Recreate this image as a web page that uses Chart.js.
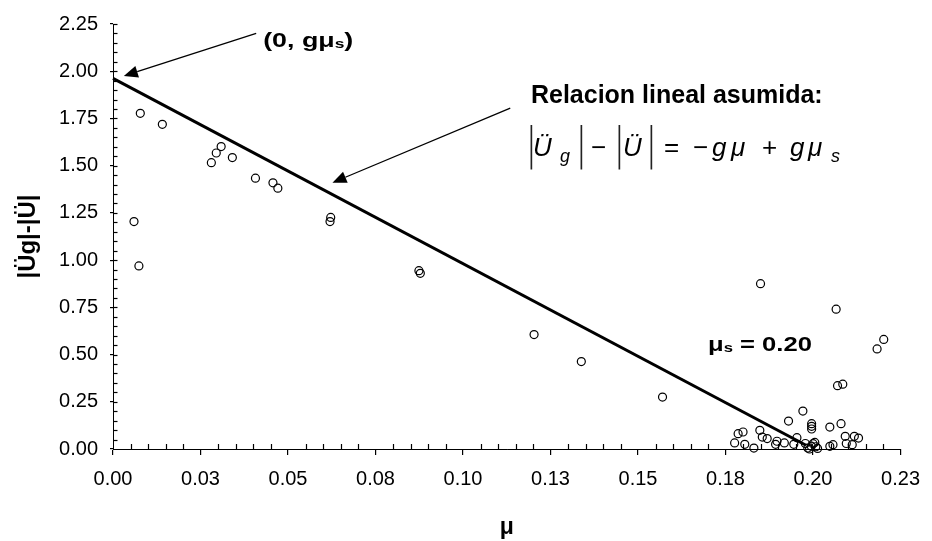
<!DOCTYPE html>
<html lang="es">
<head>
<meta charset="UTF-8" />
<title>Relacion lineal asumida</title>
<script src="https://cdn.jsdelivr.net/npm/chart.js"></script>
<style>
  body { margin: 0; background: #fff; }
  canvas { display: block; }
</style>
</head>
<body>
<canvas id="grafico" width="932" height="541"></canvas>
<script>
  // coeficiente de rozamiento de cada registro
  const mu = [
    0.0060, 0.0074, 0.0078, 0.0141, 0.0281, 0.0295, 0.0309, 0.0341, 0.0407, 0.0457,
    0.0471, 0.0620, 0.0622, 0.0874, 0.0878, 0.1203, 0.1338, 0.1570,
    0.1776, 0.1786, 0.1800, 0.1805, 0.1831, 0.1848, 0.1850, 0.1855, 0.1869, 0.1893,
    0.1897, 0.1918, 0.1930, 0.1945, 0.1954, 0.1971, 0.1978, 0.1985, 0.1990, 0.1995,
    0.1996, 0.1996, 0.1996, 0.2000, 0.2005, 0.2008, 0.2013, 0.2048, 0.2048, 0.2057,
    0.2066, 0.2070, 0.2080, 0.2085, 0.2092, 0.2095, 0.2112, 0.2118, 0.2130, 0.2183,
    0.2202
  ];
  // |Üg| - |Ü| de cada registro
  const difAcel = [
    1.204, 0.969, 1.777, 1.719, 1.516, 1.567, 1.601, 1.543, 1.434, 1.409,
    1.381, 1.204, 1.226, 0.944, 0.930, 0.606, 0.463, 0.275,
    0.032, 0.081, 0.090, 0.025, 0.005, 0.099, 0.875, 0.063, 0.055, 0.025,
    0.041, 0.032, 0.148, 0.025, 0.060, 0.201, 0.029, 0.005, 0.000, 0.015,
    0.134, 0.120, 0.106, 0.028, 0.035, 0.012, 0.003, 0.014, 0.116, 0.023,
    0.740, 0.335, 0.134, 0.343, 0.067, 0.029, 0.023, 0.067, 0.058, 0.530,
    0.580
  ];
  // recta asumida |Üg| - |Ü| = -g mu + g mus
  const rectaMu = [0, 0.198];
  const rectaDif = [1.962, 0.020];

  const xTicks = ['0.00', '0.03', '0.05', '0.08', '0.10', '0.13', '0.15', '0.18', '0.20', '0.23'];
  const yTicks = ['0.00', '0.25', '0.50', '0.75', '1.00', '1.25', '1.50', '1.75', '2.00', '2.25'];

  const fam = '"Liberation Sans", Arial, sans-serif';
  Chart.defaults.font.family = fam;
  Chart.defaults.color = '#000';

  // dibuja un texto por tramos (subindices), con estiramiento horizontal
  function texto(ctx, x, y, partes, estira) {
    ctx.save();
    ctx.translate(x, y);
    ctx.scale(estira, 1);
    let cx = 0;
    for (const p of partes) {
      ctx.font = p.f;
      ctx.fillText(p.t, cx, p.dy || 0);
      cx += ctx.measureText(p.t).width;
    }
    ctx.restore();
  }

  function flecha(ctx, x1, y1, x2, y2) {
    const ang = Math.atan2(y2 - y1, x2 - x1);
    const largo = 14, ancho = 6;
    const bx = x2 - largo * Math.cos(ang), by = y2 - largo * Math.sin(ang);
    ctx.beginPath();
    ctx.moveTo(x1, y1);
    ctx.lineTo(bx, by);
    ctx.stroke();
    ctx.beginPath();
    ctx.moveTo(x2, y2);
    ctx.lineTo(bx + ancho * Math.sin(ang), by - ancho * Math.cos(ang));
    ctx.lineTo(bx - ancho * Math.sin(ang), by + ancho * Math.cos(ang));
    ctx.closePath();
    ctx.fill();
  }

  const anotaciones = {
    id: 'anotaciones',
    afterDraw(chart) {
      const ctx = chart.ctx;
      const area = chart.chartArea;
      const px = v => chart.scales.x.getPixelForValue(v);
      const py = v => chart.scales.y.getPixelForValue(v);
      ctx.save();
      ctx.strokeStyle = '#000';
      ctx.fillStyle = '#000';
      ctx.lineWidth = 1.2;

      // marcas menores hacia dentro
      for (let i = 0; i <= 45; i++) {
        if (i % 5 === 0) continue;
        const x = Math.round(px(i * 0.005)) + 0.5;
        ctx.beginPath();
        ctx.moveTo(x, area.bottom);
        ctx.lineTo(x, area.bottom - 5);
        ctx.stroke();
      }
      for (let i = 1; i <= 45; i++) {
        const y = Math.round(py(i * 0.05)) + 0.5;
        ctx.beginPath();
        ctx.moveTo(area.left, y);
        ctx.lineTo(area.left + 4.5, y);
        ctx.stroke();
      }

      // flechas
      ctx.lineWidth = 1.3;
      flecha(ctx, px(0.0409), py(2.20), px(0.0031), py(1.975));
      flecha(ctx, px(0.1135), py(1.805), px(0.0627), py(1.41));

      ctx.textAlign = 'left';
      ctx.textBaseline = 'alphabetic';

      texto(ctx, px(0.0429), py(2.130), [
        { t: '(0, gμ', f: 'bold 20px ' + fam },
        { t: 's', f: 'bold 13px ' + fam, dy: 1 },
        { t: ')', f: 'bold 20px ' + fam }
      ], 1.34);

      texto(ctx, px(0.1194), py(1.834), [
        { t: 'Relacion lineal asumida:', f: 'bold 25px ' + fam }
      ], 1);

      // ecuacion
      const x0 = px(0.1194), base = py(1.553);
      const it = 'italic 26px ' + fam, re = '26px ' + fam, sub = 'italic 18px ' + fam;
      const partes = [
        ['Ü', 2, it, 0], ['g', 29, sub, 6], ['−', 60, re, 0], ['Ü', 92, it, 0],
        ['=', 133, re, 0], ['−', 162, re, 0], ['g', 181, it, 0], ['μ', 200, it, 0],
        ['+', 231, re, 0], ['g', 259, it, 0], ['μ', 277, it, 0], ['s', 300, sub, 6]
      ];
      for (const [t, dx, f, dy] of partes) {
        ctx.font = f;
        ctx.fillText(t, x0 + dx, base + dy);
      }
      ctx.fillStyle = '#222';
      for (const dx of [0, 50, 88, 120]) {
        ctx.save();
        ctx.translate(x0 + dx - 3, base + 3);
        ctx.scale(1, 2.25);
        ctx.font = '20px "DejaVu Sans"';
        ctx.fillText('|', 0, 0);
        ctx.restore();
      }
      ctx.fillStyle = '#000';

      texto(ctx, px(0.170), py(0.519), [
        { t: 'μ', f: 'bold 20px ' + fam },
        { t: 's', f: 'bold 13px ' + fam, dy: 1 },
        { t: ' = 0.20', f: 'bold 20px ' + fam }
      ], 1.28);

      ctx.restore();
    }
  };

  new Chart(document.getElementById('grafico'), {
    type: 'scatter',
    data: {
      datasets: [{
        label: 'recta',
        data: rectaMu.map((m, i) => ({ x: m, y: rectaDif[i] })),
        showLine: true,
        borderColor: '#000',
        borderWidth: 3,
        pointRadius: 0,
        clip: false
      }, {
        label: 'registros',
        data: mu.map((m, i) => ({ x: m, y: difAcel[i] })),
        borderColor: '#000',
        backgroundColor: 'rgba(0,0,0,0)',
        borderWidth: 1.2,
        pointRadius: 4,
        clip: false
      }]
    },
    options: {
      responsive: false,
      animation: false,
      devicePixelRatio: 1,
      layout: { padding: { top: 23, right: 22, left: 0, bottom: 0 } },
      plugins: { legend: { display: false }, tooltip: { enabled: false } },
      scales: {
        x: {
          type: 'linear',
          min: 0,
          max: 0.225,
          afterFit(s) { s.height = 92; },
          border: { display: true, color: '#000', width: 1 },
          grid: { drawOnChartArea: false, drawTicks: true, tickLength: 6, color: '#000', lineWidth: 1.2 },
          ticks: {
            stepSize: 0.025,
            padding: 12,
            font: { size: 20 },
            color: '#000',
            callback: (v, i) => xTicks[i]
          },
          title: {
            display: true,
            text: 'μ',
            font: { size: 23, weight: 'bold' },
            color: '#000',
            padding: { top: 0, bottom: 0 }
          }
        },
        y: {
          min: 0,
          max: 2.25,
          afterFit(s) { s.width = 113; },
          border: { display: true, color: '#000', width: 1 },
          grid: { drawOnChartArea: false, drawTicks: true, tickLength: 3, color: '#000', lineWidth: 1.2 },
          ticks: {
            stepSize: 0.25,
            padding: 12,
            font: { size: 20 },
            color: '#000',
            callback: (v, i) => yTicks[i]
          },
          title: {
            display: true,
            text: '|Üg|-|Ü|',
            font: { size: 24, weight: 'bold' },
            color: '#000',
            padding: { top: 14, bottom: 0 }
          }
        }
      }
    },
    plugins: [anotaciones]
  });
</script>
</body>
</html>
